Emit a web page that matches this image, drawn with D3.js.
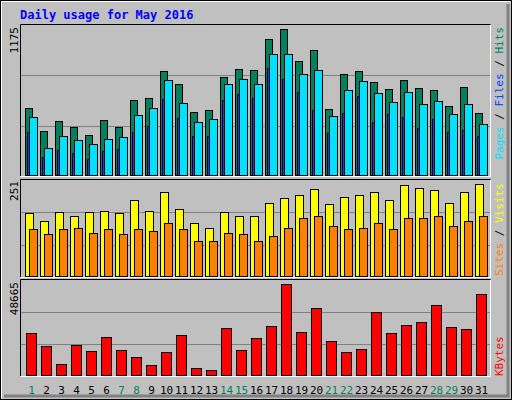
<!DOCTYPE html>
<html><head><meta charset="utf-8">
<script src="https://cdn.jsdelivr.net/npm/d3@7"></script>
<style>body{margin:0;background:#fff}</style></head>
<body><script>
const days = d3.range(1,32);
const weekend = [1,7,8,14,15,21,22,28,29];
const hits  = [529,350,428,381,319,436,381,591,607,817,716,498,514,770,833,825,1066,1144,895,980,521,794,817,731,677,747,685,669,545,692,490];
const files = [459,218,311,280,249,288,303,475,529,747,568,420,443,716,755,716,949,949,794,825,467,669,739,646,576,653,560,583,482,560,405];
const pages = [342,148,202,179,132,194,210,342,389,599,451,311,311,591,638,607,840,755,653,514,335,490,622,420,482,459,373,443,342,358,311];
const visits= [165,144,167,159,167,170,165,199,170,220,175,139,128,167,157,157,191,204,212,227,188,207,212,220,199,238,230,225,191,220,241];
const sites = [123,112,125,128,115,123,110,123,118,139,123,92,94,115,110,94,107,128,152,157,131,123,128,141,123,152,152,157,131,146,159];
const kbytes= [21615,14977,6297,15488,12424,19573,12935,9871,5787,11914,20594,4255,3234,24168,12935,19062,25189,46634,22126,34380,17531,11914,13446,32338,21615,25700,27232,35912,24679,23658,41529];
const maxTop=1175, maxMid=251, maxBot=48665;

const svg=d3.select("body").append("svg").attr("width",512).attr("height",400);
svg.append("rect").attr("x",0).attr("y",0).attr("width",512).attr("height",400).attr("fill","#c0c0c0");
svg.append("rect").attr("x",0.5).attr("y",0.5).attr("width",511).attr("height",399).attr("fill","none").attr("stroke","#000");
svg.append("path").attr("d","M1.5,398.5V1.5H510.5").attr("stroke","#fff").attr("fill","none");
svg.append("path").attr("d","M508,4V396H4").attr("stroke","#808080").attr("stroke-width",3).attr("fill","none");
svg.append("text").attr("x",20).attr("y",19).text("Daily usage for May 2016")
  .attr("font-family","DejaVu Sans Mono").attr("font-weight","bold").attr("font-size",12).attr("fill","#0000ff");

const x=d3.scaleBand().domain(days).range([23,23+15*31]);
const mono="DejaVu Sans Mono";
function panel(y0,y1,max){
  const y=d3.scaleLinear().domain([0,max]).range([y1,y0]);
  [1/3,2/3].forEach(f=>svg.append("line").attr("x1",21).attr("x2",490).attr("y1",Math.round(y(max*f))+0.5).attr("y2",Math.round(y(max*f))+0.5).attr("stroke","#808080"));
  svg.append("path").attr("d",`M20.5,${y1}V${y0-0.5}H490.5`).attr("stroke","#000").attr("fill","none");
  svg.append("path").attr("d",`M490.5,${y0}V${y1+0.5}H20.5`).attr("stroke","#fff").attr("fill","none");
  return y;
}
function bars(data,y,dx,w,color){
  svg.append("g").selectAll("rect").data(data).join("rect")
    .attr("x",(d,i)=>x(days[i])+dx+0.5).attr("y",d=>Math.round(y(d))+0.5)
    .attr("width",w).attr("height",d=>y(0)-Math.round(y(d))-1)
    .attr("fill",color).attr("stroke","#000");
}
const yT=panel(25,176,maxTop);
bars(hits,yT,2,7,"#00805c");
bars(pages,yT,4,2,"#0040ff");
bars(files,yT,6,8,"#00e0ff");
const yM=panel(180,277,maxMid);
bars(visits,yM,2,8,"#ffff00");
bars(sites,yM,6,8,"#ff8000");
const yB=panel(280,376,maxBot);
bars(kbytes,yB,3,10,"#ff0000");

svg.append("g").selectAll("text").data(days).join("text")
  .attr("x",d=>x(d)+x.bandwidth()/2+1).attr("y",394).attr("text-anchor","middle")
  .attr("font-family",mono).attr("font-size",11)
  .attr("fill",d=>weekend.includes(d)?"#00805c":"#000").text(d=>d);

function vlabel(xp,yp,anchor,parts){
  const t=svg.append("text").attr("transform",`translate(${xp},${yp}) rotate(-90)`)
    .attr("text-anchor",anchor).attr("font-family",mono).attr("font-size",11);
  parts.forEach(p=>t.append("tspan").attr("fill",p[1]).text(p[0]));
}
vlabel(18,27,"end",[["1175","#000"]]);
vlabel(18,181,"end",[["251","#000"]]);
vlabel(18,282,"end",[["48665","#000"]]);
vlabel(503,27,"end",[["Pages","#00e0ff"],[" / ","#000"],["Files","#0040ff"],[" / ","#000"],["Hits","#00805c"]]);
vlabel(503,276,"start",[["Sites","#ff8000"],[" / ","#000"],["Visits","#ffff00"]]);
vlabel(503,376,"start",[["KBytes","#ff0000"]]);
</script></body></html>
